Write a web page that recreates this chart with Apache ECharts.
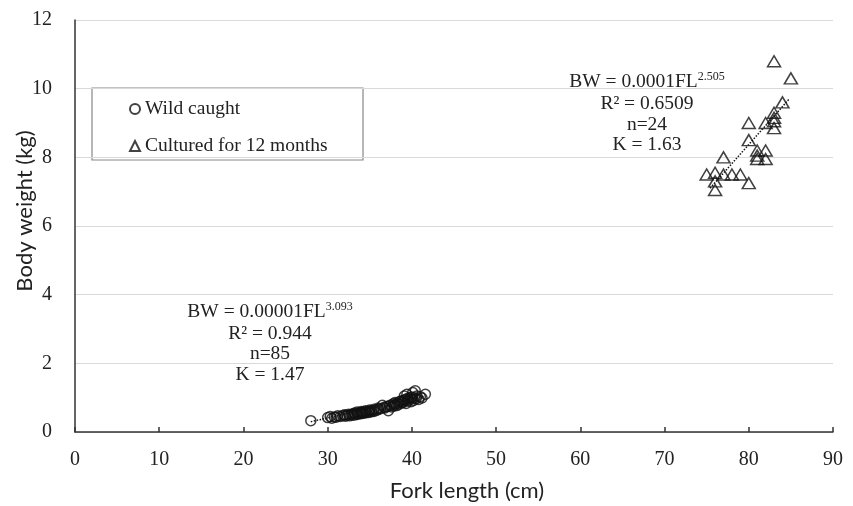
<html>
<head>
    <meta charset="utf-8">
    <title>Fork length vs body weight</title>
    <script src="https://cdn.jsdelivr.net/npm/echarts@6/dist/echarts.min.js"></script>
    <style>
        html, body { margin: 0; padding: 0; background: #fff; }
    </style>
</head>
<body>
    <div id="main" style="width: 853px;height:506px;"></div>
    <script type="text/javascript">
        // wild caught fish (n = 85)
        var wildFL = [28.0,
            30.0, 30.3, 30.5, 30.8, 31.0, 31.2, 31.5, 31.8, 32.0, 32.1, 32.3, 32.5, 32.6, 32.8,
            33.0, 33.0, 33.2, 33.3, 33.5, 33.5, 33.6, 33.8, 33.9,
            34.0, 34.0, 34.1, 34.2, 34.3, 34.5, 34.5, 34.6, 34.8, 34.9,
            35.0, 35.0, 35.2, 35.3, 35.5, 35.5, 35.8,
            36.0, 36.0, 36.3, 36.5, 36.7, 36.8,
            37.0, 37.2, 37.3, 37.5, 37.6, 37.8, 37.9,
            38.0, 38.0, 38.2, 38.3, 38.5, 38.5, 38.7, 38.8,
            39.0, 39.0, 39.1, 39.2, 39.3, 39.4, 39.5, 39.5, 39.6, 39.8, 39.9,
            40.0, 40.0, 40.1, 40.2, 40.3, 40.4, 40.5, 40.6, 40.8,
            41.0, 41.2, 41.6];
        var wildBW = [0.33,
            0.42, 0.45, 0.40, 0.44, 0.43, 0.47, 0.45, 0.48, 0.50, 0.46, 0.49, 0.52, 0.47, 0.51,
            0.53, 0.49, 0.55, 0.50, 0.54, 0.58, 0.52, 0.56, 0.53,
            0.57, 0.60, 0.54, 0.58, 0.55, 0.59, 0.62, 0.56, 0.60, 0.57,
            0.61, 0.64, 0.59, 0.62, 0.60, 0.66, 0.63,
            0.66, 0.70, 0.68, 0.78, 0.72, 0.70,
            0.74, 0.62, 0.76, 0.79, 0.73, 0.82, 0.76,
            0.80, 0.86, 0.77, 0.84, 0.88, 0.81, 0.90, 0.85,
            0.92, 0.87, 1.05, 0.95, 0.83, 1.10, 0.98, 0.90, 0.94, 1.00, 0.88,
            0.96, 1.02, 1.15, 0.92, 1.00, 1.20, 0.97, 1.05, 0.95,
            1.03, 0.99, 1.10];

        // cultured for 12 months (n = 24)
        var culturedFL = [83, 85, 84, 83, 83, 83, 82, 80, 80, 77, 81, 82,
            81, 82, 75, 76, 77, 78, 79, 80, 76, 83, 81, 76];
        var culturedBW = [10.8, 10.3, 9.6, 9.3, 9.15, 8.85, 9.0, 9.0, 8.5, 8.0, 8.2, 8.2,
            7.95, 7.95, 7.5, 7.55, 7.5, 7.5, 7.5, 7.25, 7.05, 9.05, 8.05, 7.3];

        // trend line end points
        var wildTrend = [[28.0, 0.30], [41.6, 1.05]];
        var culturedTrend = [[75.4, 7.1], [84.8, 9.7]];

        var seriesNames = ['Wild caught', 'Cultured for 12 months'];
        var wildText = ['R² = 0.944', 'n=85', 'K = 1.47'];
        var culturedText = ['R² = 0.6509', 'n=24', 'K = 1.63'];

        function zip(xs, ys) {
            return xs.map(function (x, i) { return [x, ys[i]]; });
        }

        var serif = '"Liberation Serif", "Times New Roman", serif';
        var sans = 'Lato, "Noto Sans", sans-serif';

        function eqText(cx, y, coef, power) {
            return {
                type: 'text',
                x: cx,
                y: y,
                style: {
                    text: '{a|BW = ' + coef + 'FL}{s|' + power + '}',
                    align: 'center',
                    verticalAlign: 'middle',
                    rich: {
                        a: { fontFamily: serif, fontSize: 19.5, lineHeight: 22, fill: '#222' },
                        s: { fontFamily: serif, fontSize: 12, lineHeight: 12, verticalAlign: 'top', fill: '#222' }
                    }
                }
            };
        }

        function lineText(cx, y, t) {
            return {
                type: 'text',
                x: cx,
                y: y,
                style: {
                    text: t,
                    align: 'center',
                    verticalAlign: 'middle',
                    fontFamily: serif,
                    fontSize: 19.5,
                    fill: '#222'
                }
            };
        }

        var graphics = [
            {
                type: 'rect',
                shape: { x: 92, y: 88, width: 271, height: 72 },
                style: { fill: 'none', stroke: '#888', lineWidth: 1.2 }
            },
            eqText(647, 82, '0.0001', '2.505'),
            eqText(270, 312, '0.00001', '3.093'),
            // axis titles
            {
                type: 'text',
                x: 467,
                y: 491,
                style: { text: 'Fork length (cm)', align: 'center', verticalAlign: 'middle',
                    fontFamily: sans, fontSize: 22, fill: '#222' }
            },
            {
                type: 'text',
                x: 25,
                y: 211,
                rotation: Math.PI / 2,
                style: { text: 'Body weight (kg)', align: 'center', verticalAlign: 'middle',
                    fontFamily: sans, fontSize: 22, fill: '#222' }
            }
        ];
        culturedText.forEach(function (t, i) {
            graphics.push(lineText(647, 104 + i * 20.5, t));
        });
        wildText.forEach(function (t, i) {
            graphics.push(lineText(270, 333.5 + i * 20.5, t));
        });

        var myChart = echarts.init(document.getElementById('main'));

        var option = {
            animation: false,
            grid: { left: 75, right: 20, top: 20, bottom: 74 },
            legend: {
                data: seriesNames,
                orient: 'vertical',
                left: 129,
                top: 99,
                padding: 0,
                itemGap: 17,
                itemWidth: 10,
                itemHeight: 10,
                textStyle: { fontFamily: serif, fontSize: 19.5, color: '#222' }
            },
            xAxis: {
                type: 'value',
                min: 0,
                max: 90,
                interval: 10,
                axisLine: { lineStyle: { color: '#333', width: 1.5 } },
                axisTick: { show: true, inside: true, length: 5, lineStyle: { color: '#333', width: 1.5 } },
                axisLabel: { fontFamily: serif, fontSize: 20, color: '#222', margin: 18 },
                splitLine: { show: false }
            },
            yAxis: {
                type: 'value',
                min: 0,
                max: 12,
                interval: 2,
                axisLine: { show: true, lineStyle: { color: '#333', width: 1.5 } },
                axisTick: { show: false },
                axisLabel: { fontFamily: serif, fontSize: 20, color: '#222', margin: 23 },
                splitLine: { lineStyle: { color: '#d9d9d9', width: 1 } }
            },
            graphic: graphics,
            series: [
                {
                    name: seriesNames[0],
                    type: 'scatter',
                    symbol: 'circle',
                    symbolSize: 10,
                    data: zip(wildFL, wildBW),
                    itemStyle: { color: 'rgba(255,255,255,0)', borderColor: '#111', borderWidth: 1.5 },
                    z: 3
                },
                {
                    name: seriesNames[1],
                    type: 'scatter',
                    symbol: 'triangle',
                    symbolSize: [13, 11],
                    data: zip(culturedFL, culturedBW),
                    itemStyle: { color: 'rgba(255,255,255,0)', borderColor: '#111', borderWidth: 1.5 },
                    z: 3
                },
                {
                    name: 'wild trend',
                    type: 'line',
                    data: wildTrend,
                    showSymbol: false,
                    symbol: 'none',
                    lineStyle: { type: 'dotted', color: '#111', width: 1.5 },
                    z: 2
                },
                {
                    name: 'cultured trend',
                    type: 'line',
                    data: culturedTrend,
                    showSymbol: false,
                    symbol: 'none',
                    lineStyle: { type: 'dotted', color: '#111', width: 1.5 },
                    z: 2
                }
            ]
        };

        myChart.setOption(option);
    </script>
</body>
</html>
